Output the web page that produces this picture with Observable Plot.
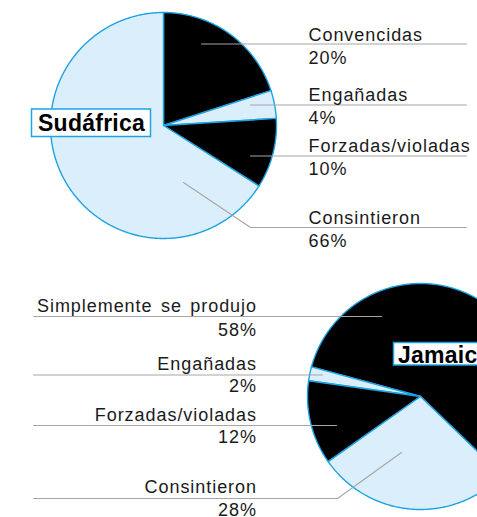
<!DOCTYPE html>
<html>
<head>
<meta charset="utf-8">
<script src="https://cdn.jsdelivr.net/npm/d3@7"></script>
<script src="https://cdn.jsdelivr.net/npm/@observablehq/plot@0.6"></script>
<style>
  html, body { margin: 0; padding: 0; background: #fff; overflow: hidden; }
  #chart svg { display: block; }
</style>
</head>
<body>
<div id="chart"></div>
<script>
// ---- data ----
const sudCategories = ["Convencidas", "Engañadas", "Forzadas/violadas", "Consintieron"];
const sudValues = [20, 4, 10, 66];
const jamCategories = ["Simplemente se produjo", "Engañadas", "Forzadas/violadas", "Consintieron"];
const jamValues = [58, 2, 12, 28];
const countries = ["Sudáfrica", "Jamaica"];

// ---- styles ----
const DARK = "#000000";
const LIGHT = "#dbeefb";
const EDGE = "#1ea3e2";
const LEADER = "#a6a6a6";
const fillFor = {"Convencidas": DARK, "Engañadas": LIGHT, "Forzadas/violadas": DARK, "Consintieron": LIGHT, "Simplemente se produjo": DARK};

// ---- layout (pixels) ----
const W = 477, H = 517;
const pies = [
  {name: countries[0], cats: sudCategories, vals: sudValues, cx: 163, cy: 125, r: 113, start: 0, dir: 1,
   box: {dx0: -131.5, dx1: -12.5, dy0: -16, dy1: 11.5, tx: 6, ty: 5}, labelAlign: "start", textX: 308},
  {name: countries[1], cats: jamCategories, vals: jamValues, cx: 420, cy: 396, r: 113, start: 134, dir: -1,
   box: {dx0: -26.5, dx1: 120, dy0: -53.5, dy1: -31, tx: 4, ty: -34}, labelAlign: "end", textX: 256.5}
];
// leader paths per slice: [x,y] points, plus label baselines
const leaders = [
  [ {pts: [[201, 43.5], [466, 43.5]], nameY: 40.5, valY: 63.5},
    {pts: [[250, 104.5], [466, 104.5]], nameY: 100.5, valY: 123.5},
    {pts: [[250, 155.5], [466, 155.5]], nameY: 151, valY: 174},
    {pts: [[183, 182], [250, 227], [466, 227]], nameY: 223, valY: 246} ],
  [ {pts: [[381, 316], [33, 316]], nameY: 311.5, valY: 335},
    {pts: [[322, 374.5], [33, 374.5]], nameY: 369, valY: 391.5},
    {pts: [[336, 425], [33, 425]], nameY: 420, valY: 442},
    {pts: [[401, 452], [337, 498], [33, 498]], nameY: 492, valY: 515.5} ]
];

// ---- build mark data ----
const slicePts = [];
const leaderPts = [];
const labels = [];
const boxes = [];
const titles = [];
const rad = Math.PI / 180;
pies.forEach((p, pi) => {
  const pie = d3.pie().sort(null)
    .startAngle(p.start * rad)
    .endAngle((p.start + p.dir * 360) * rad);
  const arcs = pie(p.vals);
  arcs.forEach((a, i) => {
    const key = p.name + "-" + i;
    const fill = fillFor[p.cats[i]];
    slicePts.push({key, fill, x: p.cx, y: p.cy});
    const n = Math.max(4, Math.ceil(Math.abs(a.endAngle - a.startAngle) / (0.5 * rad)));
    for (let k = 0; k <= n; k++) {
      const t = a.startAngle + (a.endAngle - a.startAngle) * k / n;
      slicePts.push({key, fill, x: p.cx + p.r * Math.sin(t), y: p.cy - p.r * Math.cos(t)});
    }
    slicePts.push({key, fill, x: p.cx, y: p.cy});
    const L = leaders[pi][i];
    L.pts.forEach(([x, y]) => leaderPts.push({key, x, y}));
    labels.push({x: p.textX, y: L.nameY, text: p.cats[i], anchor: p.labelAlign});
    labels.push({x: p.textX, y: L.valY, text: p.vals[i] + "%", anchor: p.labelAlign});
  });
  boxes.push({x1: p.cx + p.box.dx0, x2: p.cx + p.box.dx1, y1: p.cy + p.box.dy0, y2: p.cy + p.box.dy1});
  titles.push({x: p.cx + p.box.dx0 + p.box.tx, y: p.cy + p.box.ty, text: p.name});
});

const FONT = "'Liberation Sans', Arial, Helvetica, sans-serif";

const chart = Plot.plot({
  width: W, height: H,
  margin: 0,
  x: {domain: [0, W], range: [0, W], axis: null},
  y: {domain: [0, H], range: [0, H], axis: null},
  color: {type: "identity"},
  style: {fontFamily: FONT, background: "#fff", overflow: "hidden"},
  marks: [
    Plot.line(slicePts, {x: "x", y: "y", z: "key", fill: "fill", stroke: EDGE, strokeWidth: 1.4, strokeLinejoin: "round", curve: "linear", clip: true}),
    Plot.line(leaderPts, {x: "x", y: "y", z: "key", stroke: LEADER, strokeWidth: 1.1, curve: "linear", clip: true}),
    Plot.text(labels.filter(d => d.anchor === "start"), {x: "x", y: "y", text: "text", textAnchor: "start", lineAnchor: "bottom", fontSize: 18, fill: "#1a1a1a", clip: true}),
    Plot.text(labels.filter(d => d.anchor === "end"), {x: "x", y: "y", text: "text", textAnchor: "end", lineAnchor: "bottom", fontSize: 18, fill: "#1a1a1a", clip: true}),
    Plot.rect(boxes, {x1: "x1", x2: "x2", y1: "y1", y2: "y2", fill: "#fff", stroke: EDGE, strokeWidth: 1.5, clip: true}),
    Plot.text(titles, {x: "x", y: "y", text: "text", textAnchor: "start", lineAnchor: "bottom", fontSize: 23, fontWeight: "bold", fill: "#000", clip: true})
  ]
});
// tracking: regular labels are letter-spaced, titles a little
chart.querySelectorAll("text").forEach(t => {
  if (countries.includes(t.textContent)) {
    t.style.letterSpacing = "0.25px";
  } else {
    t.style.letterSpacing = "0.95px";
    t.style.wordSpacing = "2.5px";
  }
});
document.getElementById("chart").append(chart);
</script>
</body>
</html>
